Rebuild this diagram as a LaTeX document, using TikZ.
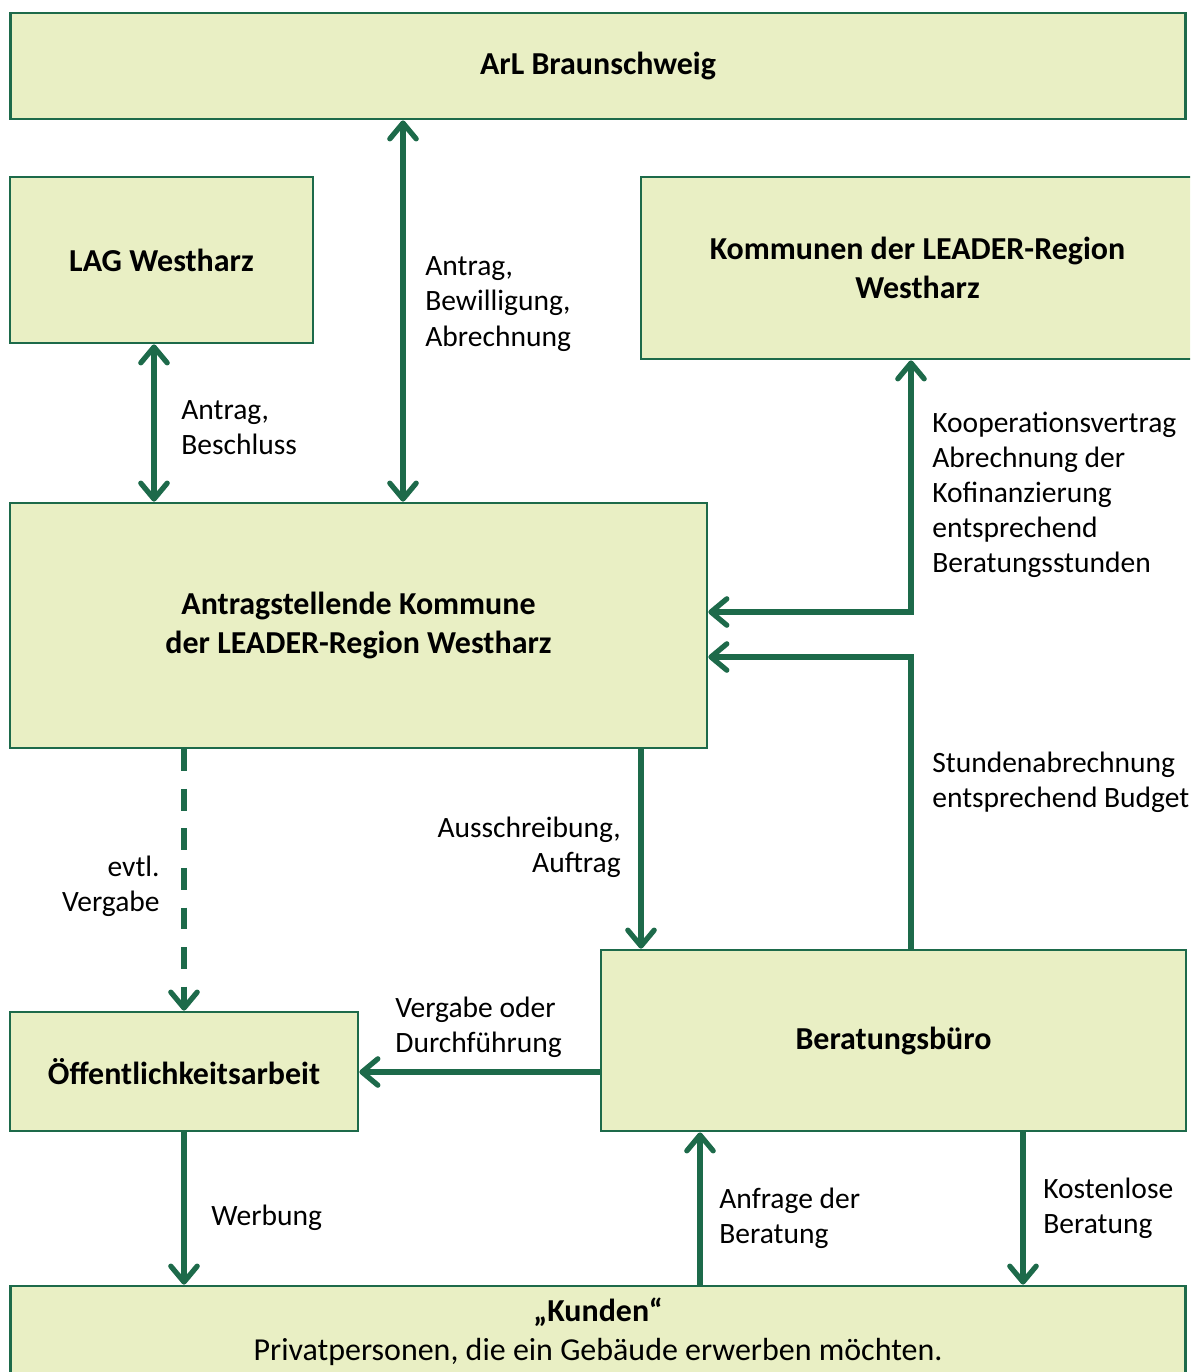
\documentclass[tikz,border=0pt]{standalone}
\usepackage{fontspec}
\setmainfont{Carlito}
\definecolor{leadergreen}{HTML}{1D6A4A}
\definecolor{leaderfill}{HTML}{E9EFC4}
\usetikzlibrary{arrows.meta,positioning}

\begin{document}
\begin{tikzpicture}[
  x=0.02cm, y=-0.02cm,
  >={Straight Barb[length=9pt,width=15pt,round]},
  font=\fontsize{16.8}{20}\selectfont,
  block/.style={draw=leadergreen, fill=leaderfill, line width=1.6pt,
    align=center, inner sep=0pt, font=\fontsize{18.2}{22}\selectfont\bfseries},
  flow/.style={draw=leadergreen, line width=3pt, ->},
  note/.style={align=left, inner sep=0pt, anchor=west}
]
  \clip (0,0) rectangle (1190,1372);

  % Boxes
  \node[block, minimum width=23.52cm, minimum height=2.12cm] (arl) at (598,66) {ArL Braunschweig};
  \node[block, minimum width=6.06cm, minimum height=3.32cm] (lag) at (161.5,260) {LAG Westharz};
  \node[block, minimum width=11.06cm, minimum height=3.64cm] (kommunen) at (917.5,268)
    {Kommunen der LEADER-Region\\Westharz};
  \node[block, minimum width=13.94cm, minimum height=4.9cm] (antrag) at (358.5,625.5)
    {Antragstellende Kommune\\der LEADER-Region Westharz};
  \node[block, minimum width=6.96cm, minimum height=2.38cm] (oeff) at (184,1071.5) {Öffentlichkeitsarbeit};
  \node[block, minimum width=11.7cm, minimum height=3.62cm] (beratung) at (893.5,1040.5) {Beratungsbüro};
  \node[block, minimum width=23.52cm, minimum height=1.84cm] (kunden) at (598,1332)
    {„Kunden“\\\mdseries Privatpersonen, die ein Gebäude erwerben möchten.};

  % Labels
  \node[note] (lblarl) at (425,304) {Antrag,\\Bewilligung,\\Abrechnung};
  \node[note] (lbllag) at (181,428) {Antrag,\\Beschluss};
  \node[note] (lblkom) at (932,495) {Kooperationsvertrag\\Abrechnung der\\Kofinanzierung\\entsprechend\\Beratungsstunden};
  \node[note] (lblstd) at (932,782) {Stundenabrechnung\\entsprechend Budget};
  \node[note, anchor=east, align=right] (lblaus) at (621,847) {Ausschreibung,\\Auftrag};
  \node[note, anchor=east, align=right] (lblevtl) at (160,886) {evtl.\\Vergabe};
  \node[note] (lblverg) at (395,1027) {Vergabe oder\\Durchführung};
  \node[note] (lblwerb) at (211,1218) {Werbung};
  \node[note] (lblanf) at (719,1218) {Anfrage der\\Beratung};
  \node[note] (lblkost) at (1043,1208) {Kostenlose\\Beratung};

  % Arrows
  \draw[flow, <->] (arl.south -| 403,0) -- (antrag.north -| 403,0);
  \draw[flow, <->] (lag.south -| 154,0) -- (antrag.north -| 154,0);
  \draw[flow, <->] (kommunen.south -| 911,0) -- (911,612) -- (antrag.east |- 0,612);
  \draw[flow] (beratung.north -| 911,0) -- (911,657) -- (antrag.east |- 0,657);
  \draw[flow] (antrag.south -| 641,0) -- (beratung.north -| 641,0);
  \draw[flow, dash pattern=on 12.5pt off 10pt] (antrag.south -| oeff.north) -- (oeff.north);
  \draw[flow] (beratung.west |- 0,1072) -- (oeff.east |- 0,1072);
  \draw[flow] (oeff.south) -- (kunden.north -| oeff.south);
  \draw[flow] (kunden.north -| 700,0) -- (beratung.south -| 700,0);
  \draw[flow] (beratung.south -| 1023,0) -- (kunden.north -| 1023,0);
\end{tikzpicture}
\end{document}
